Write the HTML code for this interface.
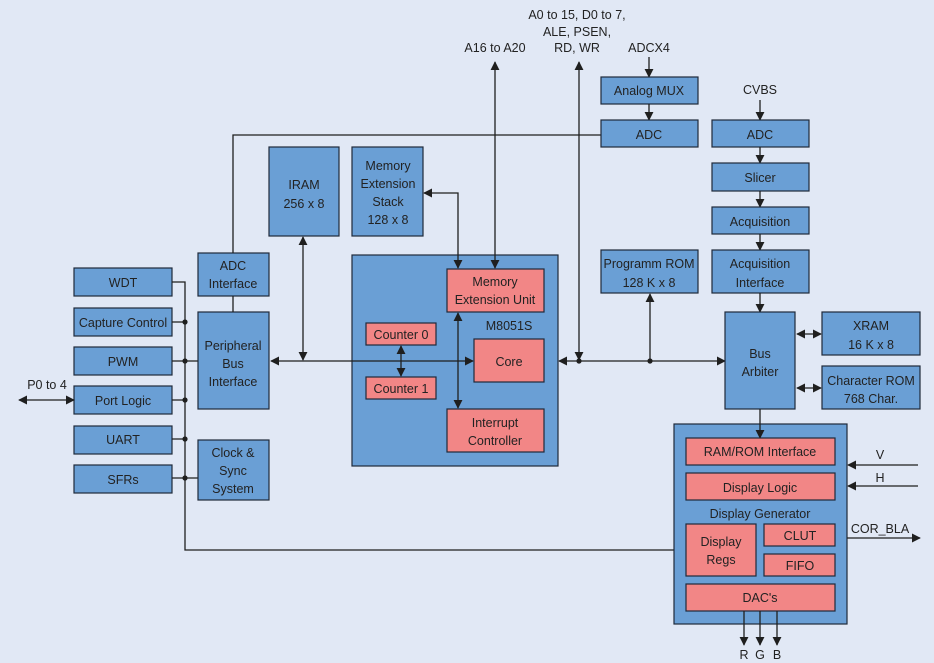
<!DOCTYPE html>
<html><head><meta charset="utf-8"><style>
html,body{margin:0;padding:0;background:#e1e8f5;}
svg{display:block;}
text{font-family:"Liberation Sans",Arial,sans-serif;font-size:12.5px;fill:#222;text-anchor:middle;}
.b{fill:#6a9fd5;stroke:#1f2a3a;stroke-width:1.2;}
.p{fill:#f28686;stroke:#1f2a3a;stroke-width:1.2;}
.l{stroke:#1f1f1f;stroke-width:1.3;fill:none;}
</style></head><body>
<svg width="934" height="663" viewBox="0 0 934 663" xmlns="http://www.w3.org/2000/svg">
<defs>
<marker id="a" viewBox="0 0 10 10" refX="9" refY="5" markerWidth="9" markerHeight="9" markerUnits="userSpaceOnUse" orient="auto-start-reverse"><path d="M0,0 L10,5 L0,10 z" fill="#1f1f1f"/></marker>
</defs>
<rect width="934" height="663" fill="#e1e8f5"/>

<!-- left column boxes -->
<rect class="b" x="74" y="268" width="98" height="28"/><text x="123" y="287">WDT</text>
<rect class="b" x="74" y="308" width="98" height="28"/><text x="123" y="327">Capture Control</text>
<rect class="b" x="74" y="347" width="98" height="28"/><text x="123" y="366">PWM</text>
<rect class="b" x="74" y="386" width="98" height="28"/><text x="123" y="405">Port Logic</text>
<rect class="b" x="74" y="426" width="98" height="28"/><text x="123" y="444">UART</text>
<rect class="b" x="74" y="465" width="98" height="28"/><text x="123" y="484">SFRs</text>

<!-- left bus -->
<path class="l" d="M172,282 H185 V550 H686"/>
<path class="l" d="M172,322 H185 M172,361 H198 M172,400 H185 M172,439 H185 M172,478 H198"/>
<g fill="#1f1f1f"><circle cx="185" cy="322" r="2.6"/><circle cx="185" cy="361" r="2.6"/><circle cx="185" cy="400" r="2.6"/><circle cx="185" cy="439" r="2.6"/><circle cx="185" cy="478" r="2.6"/></g>
<path class="l" d="M19,400 H74" marker-start="url(#a)" marker-end="url(#a)"/>
<text x="47" y="389">P0 to 4</text>

<rect class="b" x="198" y="253" width="71" height="43"/><text x="233" y="270">ADC</text><text x="233" y="288">Interface</text>
<rect class="b" x="198" y="312" width="71" height="97"/><text x="233" y="350">Peripheral</text><text x="233" y="368">Bus</text><text x="233" y="386">Interface</text>
<rect class="b" x="198" y="440" width="71" height="60"/><text x="233" y="457">Clock &amp;</text><text x="233" y="475">Sync</text><text x="233" y="493">System</text>
<path class="l" d="M233,253 V135 H601 M233,296 V312"/>

<!-- IRAM / stack -->
<rect class="b" x="269" y="147" width="70" height="89"/><text x="304" y="189">IRAM</text><text x="304" y="208">256 x 8</text>
<rect class="b" x="352" y="147" width="71" height="89"/><text x="388" y="170">Memory</text><text x="388" y="188">Extension</text><text x="388" y="206">Stack</text><text x="388" y="224">128 x 8</text>

<!-- M8051S -->
<rect class="b" x="352" y="255" width="206" height="211"/>
<text x="509" y="330">M8051S</text>
<rect class="p" x="447" y="269" width="97" height="43"/><text x="495" y="286">Memory</text><text x="495" y="304">Extension Unit</text>
<rect class="p" x="474" y="339" width="70" height="43"/><text x="509" y="366">Core</text>
<rect class="p" x="447" y="409" width="97" height="43"/><text x="495" y="427">Interrupt</text><text x="495" y="445">Controller</text>
<rect class="p" x="366" y="323" width="70" height="22"/><text x="401" y="339">Counter 0</text>
<rect class="p" x="366" y="377" width="70" height="22"/><text x="401" y="393">Counter 1</text>
<path class="l" d="M401,346 V376" marker-start="url(#a)" marker-end="url(#a)"/>

<!-- main bus -->
<path class="l" d="M271,361 H473" marker-start="url(#a)" marker-end="url(#a)"/>
<path class="l" d="M303,237 V360" marker-start="url(#a)" marker-end="url(#a)"/>
<path class="l" d="M424,193 H458 V268" marker-start="url(#a)" marker-end="url(#a)"/>
<path class="l" d="M458,313 V408" marker-start="url(#a)" marker-end="url(#a)"/>

<!-- top connections -->
<path class="l" d="M495,268 V62" marker-start="url(#a)" marker-end="url(#a)"/>
<text x="495" y="52">A16 to A20</text>
<text x="577" y="19">A0 to 15, D0 to 7,</text>
<text x="577" y="36">ALE, PSEN,</text>
<text x="577" y="52">RD, WR</text>
<path class="l" d="M579,360 V62" marker-start="url(#a)" marker-end="url(#a)"/>
<path class="l" d="M559,361 H725" marker-start="url(#a)" marker-end="url(#a)"/>
<circle cx="579" cy="361" r="2.6" fill="#1f1f1f"/>
<circle cx="650" cy="361" r="2.6" fill="#1f1f1f"/>
<path class="l" d="M650,361 V294" marker-end="url(#a)"/>
<rect class="b" x="601" y="250" width="97" height="43"/><text x="649" y="268">Programm ROM</text><text x="649" y="287">128 K x 8</text>

<text x="649" y="52">ADCX4</text>
<path class="l" d="M649,57 V77" marker-end="url(#a)"/>
<rect class="b" x="601" y="77" width="97" height="27"/><text x="649" y="95">Analog MUX</text>
<path class="l" d="M649,104 V120" marker-end="url(#a)"/>
<rect class="b" x="601" y="120" width="97" height="27"/><text x="649" y="139">ADC</text>

<!-- right column -->
<text x="760" y="94">CVBS</text>
<path class="l" d="M760,100 V120" marker-end="url(#a)"/>
<rect class="b" x="712" y="120" width="97" height="27"/><text x="760" y="139">ADC</text>
<path class="l" d="M760,147 V163" marker-end="url(#a)"/>
<rect class="b" x="712" y="163" width="97" height="28"/><text x="760" y="182">Slicer</text>
<path class="l" d="M760,191 V207" marker-end="url(#a)"/>
<rect class="b" x="712" y="207" width="97" height="27"/><text x="760" y="226">Acquisition</text>
<path class="l" d="M760,234 V250" marker-end="url(#a)"/>
<rect class="b" x="712" y="250" width="97" height="43"/><text x="760" y="268">Acquisition</text><text x="760" y="287">Interface</text>
<path class="l" d="M760,293 V312" marker-end="url(#a)"/>
<rect class="b" x="725" y="312" width="70" height="97"/><text x="760" y="358">Bus</text><text x="760" y="376">Arbiter</text>
<rect class="b" x="822" y="312" width="98" height="43"/><text x="871" y="330">XRAM</text><text x="871" y="349">16 K x 8</text>
<rect class="b" x="822" y="366" width="98" height="43"/><text x="871" y="385">Character ROM</text><text x="871" y="403">768 Char.</text>
<path class="l" d="M797,334 H821" marker-start="url(#a)" marker-end="url(#a)"/>
<path class="l" d="M797,388 H821" marker-start="url(#a)" marker-end="url(#a)"/>

<!-- display generator -->
<rect class="b" x="674" y="424" width="173" height="200"/>
<path class="l" d="M760,409 V438" marker-end="url(#a)"/>
<rect class="p" x="686" y="438" width="149" height="27"/><text x="760" y="456">RAM/ROM Interface</text>
<rect class="p" x="686" y="473" width="149" height="27"/><text x="760" y="492">Display Logic</text>
<text x="760" y="518">Display Generator</text>
<rect class="p" x="686" y="524" width="70" height="52"/><text x="721" y="546">Display</text><text x="721" y="564">Regs</text>
<rect class="p" x="764" y="524" width="71" height="22"/><text x="800" y="540">CLUT</text>
<rect class="p" x="764" y="554" width="71" height="22"/><text x="800" y="570">FIFO</text>
<rect class="p" x="686" y="584" width="149" height="27"/><text x="760" y="602">DAC's</text>
<path class="l" d="M744,611 V645" marker-end="url(#a)"/>
<path class="l" d="M760,611 V645" marker-end="url(#a)"/>
<path class="l" d="M777,611 V645" marker-end="url(#a)"/>
<text x="744" y="659">R</text><text x="760" y="659">G</text><text x="777" y="659">B</text>
<path class="l" d="M918,465 H848" marker-end="url(#a)"/>
<path class="l" d="M918,486 H848" marker-end="url(#a)"/>
<text x="880" y="459">V</text><text x="880" y="482">H</text>
<path class="l" d="M847,538 H920" marker-end="url(#a)"/>
<text x="880" y="533">COR_BLA</text>
</svg>
</body></html>
